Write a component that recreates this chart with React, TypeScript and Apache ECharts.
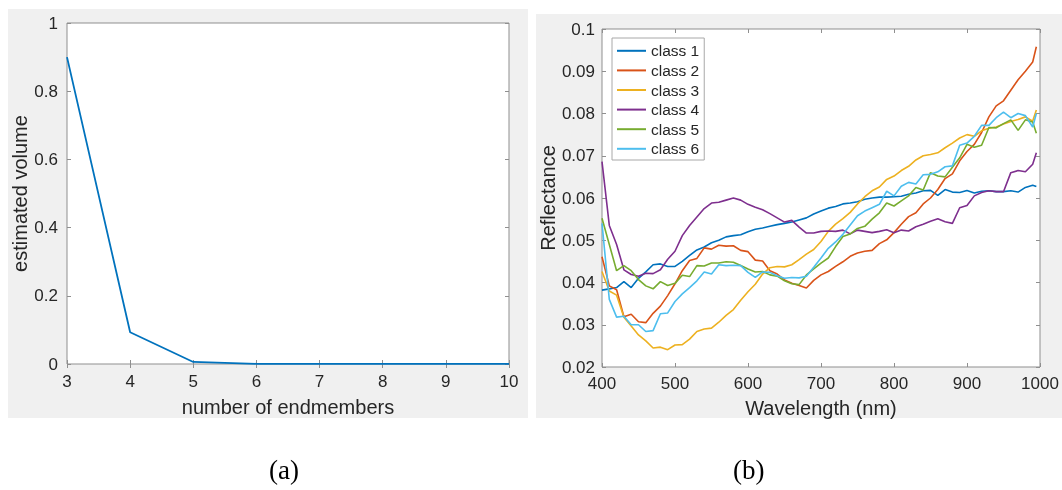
import React, { useEffect, useRef } from "react";
import * as echarts from "echarts";

// Panel (a)
const endmembers = [3, 4, 5, 6, 7, 8, 9, 10];
const volume = [0.9, 0.093, 0.006, 0.0006, 0.0002, 0.0001, 0.0001, 0.0001];
const xTicksA = [3, 4, 5, 6, 7, 8, 9, 10];

// Panel (b)
const wavelength = [
  400, 410, 420, 430, 440, 450, 460, 470, 480, 490, 500, 510, 520, 530, 540, 550, 560, 570, 580, 590,
  600, 610, 620, 630, 640, 650, 660, 670, 680, 690, 700, 710, 720, 730, 740, 750, 760, 770, 780, 790,
  800, 810, 820, 830, 840, 850, 860, 870, 880, 890, 900, 910, 920, 930, 940, 950, 960, 970, 980, 990, 995,
];
const classNames = ["class 1", "class 2", "class 3", "class 4", "class 5", "class 6"];
const class1 = [
  0.0382, 0.0385, 0.0388, 0.0402, 0.0388, 0.041, 0.0425, 0.0442, 0.0444, 0.0438, 0.0438, 0.045, 0.0464, 0.0477, 0.0484, 0.0494, 0.05, 0.0508, 0.0511, 0.0513,
  0.052, 0.0526, 0.0529, 0.0533, 0.0537, 0.054, 0.0543, 0.0548, 0.0553, 0.0562, 0.0569, 0.0576, 0.058, 0.0586, 0.0588, 0.0591, 0.0597, 0.06, 0.0602, 0.0602,
  0.0603, 0.0604, 0.0609, 0.0612, 0.0617, 0.0618, 0.0606, 0.062, 0.0614, 0.0613, 0.0618, 0.0612, 0.0616, 0.0617, 0.0615, 0.0615, 0.0617, 0.0614, 0.0625, 0.063, 0.0627,
];
const class2 = [
  0.0461, 0.0392, 0.0383, 0.0319, 0.0325, 0.0307, 0.0305, 0.0327, 0.0344, 0.0369, 0.0397, 0.0428, 0.0452, 0.0457, 0.0482, 0.0479, 0.0488, 0.0486, 0.0487, 0.0476,
  0.0473, 0.0453, 0.0451, 0.0428, 0.042, 0.0406, 0.0398, 0.0393, 0.0387, 0.0405, 0.0418, 0.0426, 0.0438, 0.0449, 0.0462, 0.047, 0.0474, 0.0476, 0.0492, 0.0501,
  0.0518, 0.0538, 0.0556, 0.0565, 0.0586, 0.06, 0.062, 0.0646, 0.0657, 0.0688, 0.071, 0.0727, 0.0755, 0.0792, 0.0818, 0.083, 0.0855, 0.088, 0.09, 0.0922, 0.0958,
];
const class3 = [
  0.0426, 0.038, 0.037, 0.0318, 0.0297, 0.0276, 0.0262, 0.0245, 0.0247, 0.0241, 0.0252, 0.0253, 0.0266, 0.0284, 0.029, 0.0292, 0.0306, 0.0322, 0.0336, 0.0358,
  0.0378, 0.0396, 0.042, 0.0435, 0.0438, 0.0437, 0.0442, 0.0454, 0.0467, 0.0478, 0.0497, 0.0521, 0.0538, 0.0551, 0.0566, 0.0586, 0.0603, 0.0617, 0.0626, 0.0644,
  0.0652, 0.0665, 0.0675, 0.069, 0.07, 0.0703, 0.0707, 0.0719, 0.073, 0.0742, 0.075, 0.0746, 0.0759, 0.0765, 0.0768, 0.0775, 0.0781, 0.0786, 0.0792, 0.0782, 0.0808,
];
const class4 = [
  0.0686, 0.0535, 0.049, 0.043, 0.0419, 0.0415, 0.0422, 0.0421, 0.043, 0.0455, 0.0474, 0.0511, 0.0535, 0.0555, 0.0575, 0.0588, 0.059, 0.0595, 0.06, 0.0595,
  0.0585, 0.0578, 0.0572, 0.0563, 0.0553, 0.0543, 0.0547, 0.0531, 0.0517, 0.0517, 0.0521, 0.0522, 0.0521, 0.0524, 0.0515, 0.0524, 0.0521, 0.0518, 0.0521, 0.0525,
  0.0518, 0.0524, 0.0522, 0.0532, 0.0538, 0.0545, 0.0551, 0.0544, 0.054, 0.0577, 0.0582, 0.0605, 0.0613, 0.0617, 0.0615, 0.0615, 0.066, 0.0665, 0.0662, 0.068, 0.0707,
];
const class5 = [
  0.0552, 0.049, 0.0428, 0.044, 0.0428, 0.0407, 0.0392, 0.0385, 0.0402, 0.0393, 0.0398, 0.0417, 0.0414, 0.044, 0.0439, 0.0446, 0.0446, 0.0449, 0.0448, 0.044,
  0.0432, 0.0425, 0.0426, 0.0418, 0.0415, 0.0404, 0.0397, 0.0395, 0.0418, 0.0432, 0.0446, 0.0458, 0.0485, 0.0509, 0.0515, 0.0528, 0.0533, 0.055, 0.0565, 0.0588,
  0.0581, 0.0593, 0.0605, 0.0625, 0.0619, 0.066, 0.0652, 0.065, 0.0673, 0.0695, 0.0727, 0.072, 0.0725, 0.0767, 0.0766, 0.0776, 0.0785, 0.076, 0.0785, 0.078, 0.0753,
];
const class6 = [
  0.054, 0.036, 0.0318, 0.032, 0.03, 0.03, 0.0284, 0.0286, 0.0326, 0.0328, 0.0355, 0.0373, 0.0388, 0.0404, 0.0425, 0.042, 0.0442, 0.044, 0.0441, 0.044,
  0.0424, 0.0412, 0.0425, 0.0424, 0.0416, 0.041, 0.0412, 0.0411, 0.0415, 0.0436, 0.0458, 0.0481, 0.0496, 0.0514, 0.0536, 0.0558, 0.0569, 0.0577, 0.0585, 0.0616,
  0.0605, 0.0628, 0.0637, 0.0633, 0.0655, 0.0656, 0.0662, 0.0674, 0.0676, 0.0725, 0.073, 0.0746, 0.0772, 0.0772, 0.079, 0.0803, 0.079, 0.08, 0.0795, 0.0768, 0.08,
];
const classValues = [class1, class2, class3, class4, class5, class6];
const classColors = ["#0072BD", "#D95319", "#EDB120", "#7E2F8E", "#77AC30", "#4DBEEE"];

const FONT = "'Liberation Sans', Arial, Helvetica, sans-serif";
const AXIS_GRAY = "#8f8f8f";
const TEXT = "#262626";

function boxAxis(base: any, gridIndex: number, position: string, showLabels: boolean, margin: number) {
  return {
    type: "value",
    gridIndex,
    position,
    ...base,
    axisLine: { show: false },
    axisTick: { show: true, inside: true, length: 4, lineStyle: { color: AXIS_GRAY, width: 1 } },
    axisLabel: {
      show: showLabels,
      color: TEXT,
      fontSize: 17,
      fontFamily: FONT,
      margin,
      formatter: (v: number) => String(Math.round(v * 1000) / 1000),
    },
    splitLine: { show: false },
  };
}

export default function App() {
  const ref = useRef<HTMLDivElement>(null);
  useEffect(() => {
    const chart = echarts.init(ref.current!, null, { renderer: "svg" });
    const xA = { min: xTicksA[0], max: xTicksA[xTicksA.length - 1], interval: 1 };
    const yA = { min: 0, max: 1, interval: 0.2 };
    const xB = { min: 400, max: 1000, interval: 100 };
    const yB = { min: 0.02, max: 0.1, interval: 0.01 };
    const option: any = {
      animation: false,
      graphic: [
        { type: "rect", z: -10, shape: { x: 8, y: 9, width: 520, height: 409 }, style: { fill: "#F0F0F0" }, silent: true },
        { type: "rect", z: -10, shape: { x: 536, y: 14, width: 526, height: 404 }, style: { fill: "#F0F0F0" }, silent: true },
        { type: "text", left: 269, top: 456, style: { text: "(a)", fontSize: 27, fontFamily: "'Liberation Serif', 'Times New Roman', serif", fill: "#000" } },
        { type: "text", left: 733, top: 456, style: { text: "(b)", fontSize: 27, fontFamily: "'Liberation Serif', 'Times New Roman', serif", fill: "#000" } },
      ],
      grid: [
        { left: 67, top: 23, width: 442, height: 341, show: true, backgroundColor: "#fff", borderColor: AXIS_GRAY, borderWidth: 1 },
        { left: 602, top: 29, width: 438, height: 338, show: true, backgroundColor: "#fff", borderColor: AXIS_GRAY, borderWidth: 1 },
      ],
      xAxis: [
        {
          ...boxAxis(xA, 0, "bottom", true, 9),
          name: "number of endmembers",
          nameLocation: "middle",
          nameGap: 33,
          nameTextStyle: { color: TEXT, fontSize: 20, fontFamily: FONT },
        },
        boxAxis(xA, 0, "top", false, 8),
        {
          ...boxAxis(xB, 1, "bottom", true, 8),
          name: "Wavelength (nm)",
          nameLocation: "middle",
          nameGap: 31,
          nameTextStyle: { color: TEXT, fontSize: 20, fontFamily: FONT },
        },
        boxAxis(xB, 1, "top", false, 8),
      ],
      yAxis: [
        {
          ...boxAxis(yA, 0, "left", true, 9),
          name: "estimated volume",
          nameLocation: "middle",
          nameGap: 34,
          nameTextStyle: { color: TEXT, fontSize: 20, fontFamily: FONT },
        },
        boxAxis(yA, 0, "right", false, 8),
        {
          ...boxAxis(yB, 1, "left", true, 7),
          name: "Reflectance",
          nameLocation: "middle",
          nameGap: 44,
          nameTextStyle: { color: TEXT, fontSize: 20, fontFamily: FONT },
        },
        boxAxis(yB, 1, "right", false, 8),
      ],
      legend: {
        data: classNames,
        orient: "vertical",
        left: 612,
        top: 38,
        padding: [3, 5, 1.4, 5],
        itemGap: 0,
        itemWidth: 29,
        itemHeight: 2,
        icon: "rect",
        backgroundColor: "#fff",
        borderColor: "#a8a8a8",
        borderWidth: 1,
        borderRadius: 0,
        textStyle: { color: TEXT, fontSize: 15.5, fontFamily: FONT, lineHeight: 19.6 },
      },
      series: [
        {
          type: "line",
          name: "volume",
          xAxisIndex: 0,
          yAxisIndex: 0,
          showSymbol: false,
          symbol: "none",
          data: endmembers.map((e, i) => [e, volume[i]]),
          lineStyle: { color: "#0072BD", width: 1.8 },
          itemStyle: { color: "#0072BD" },
        },
        ...classNames.map((n, k) => ({
          type: "line",
          name: n,
          xAxisIndex: 2,
          yAxisIndex: 2,
          showSymbol: false,
          symbol: "none",
          data: wavelength.map((w, i) => [w, classValues[k][i]]),
          lineStyle: { color: classColors[k], width: 1.6 },
          itemStyle: { color: classColors[k] },
        })),
      ],
    };
    chart.setOption(option);
    return () => chart.dispose();
  }, []);
  return <div ref={ref} style={{ position: "fixed", left: 0, top: 0, width: 1062, height: 490 }} />;
}
